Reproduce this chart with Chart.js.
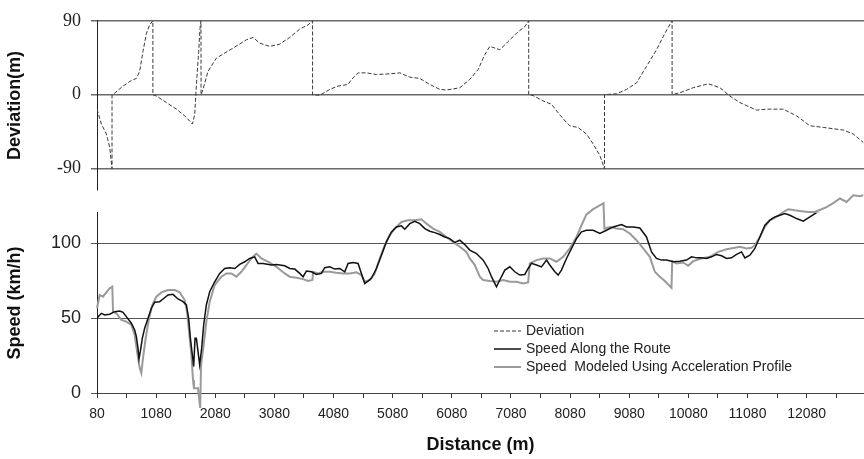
<!DOCTYPE html>
<html>
<head>
<meta charset="utf-8">
<script src="https://cdn.jsdelivr.net/npm/chart.js@4.4.0/dist/chart.umd.min.js"></script>
<style>
  html, body { margin: 0; padding: 0; background: #fff; }
  #wrap { width: 864px; height: 459px; }
</style>
</head>
<body>
<div id="wrap"><canvas id="chart" width="864" height="459"></canvas></div>
<script>
// deviation from route (m) vs distance (m)
const devDist = [80, 154, 239, 295, 334, 334, 379, 520, 662, 746, 802, 858, 916, 971, 1025, 1025,
  1085, 1254, 1423, 1563, 1694, 1733, 1761, 1800, 1822, 1838, 1840, 1873, 1958, 2100, 2380, 2607,
  2719, 2832, 3001, 3170, 3340, 3509, 3649, 3725, 3725, 3847, 4016, 4156, 4326, 4383, 4495, 4637,
  4806, 5031, 5200, 5369, 5539, 5708, 5877, 5990, 6215, 6384, 6525, 6638, 6722, 6892, 7032, 7174,
  7315, 7380, 7380, 7455, 7624, 7766, 7907, 8020, 8076, 8216, 8358, 8470, 8583, 8662, 8662, 8866,
  9035, 9204, 9373, 9542, 9683, 9805, 9805, 9936, 10161, 10415, 10613, 10782, 10951, 11234, 11403,
  11684, 11910, 12135, 12360, 12699, 12868, 13037];
const devValue = [-17.6, -35.7, -47.8, -64, -90, 0, 2, 10.5, 17.4, 19.8, 28.6, 52.8, 74.9, 85, 90, 0,
  -1.6, -9.6, -17.6, -25.7, -35.7, -23.7, 12.5, 52.8, 80.9, 90, 0, 6.5, 28.6, 44.7, 56.7, 66.9,
  69.7, 62.8, 58.8, 61.6, 69.8, 80, 85, 90, 0, -0.7, 6.5, 10.5, 12.5, 18.6, 26.6, 26.6,
  24.6, 25.4, 26.6, 21.4, 19.8, 12.5, 6.5, 5.7, 8.5, 18.6, 30.7, 48.8, 58.8, 54.8, 64.8, 74.9,
  82.9, 90, 0, -1, -7.6, -11.6, -24.7, -33.8, -37.8, -40, -47.8, -59.9, -74, -90, 0, 1.2,
  6.5, 14.5, 34.6, 54.8, 74.9, 90, 0, 2.4, 8.5, 13.3, 8.5, -1.6, -9.6, -18.8, -17.6,
  -17.6, -25.7, -37.8, -39.8, -43, -47.8, -58];

// measured speed along the route (km/h)
const routeDist = [80, 153, 210, 294, 379, 463, 520, 576, 661, 717, 745, 773, 790, 813, 847, 886, 943,
  999, 1055, 1140, 1196, 1281, 1365, 1450, 1535, 1591, 1630, 1659, 1692, 1715, 1738, 1760, 1788,
  1816, 1850, 1884, 1929, 1986, 2070, 2155, 2239, 2324, 2409, 2493, 2578, 2662, 2747, 2803, 2888,
  3029, 3113, 3254, 3339, 3424, 3508, 3565, 3621, 3706, 3790, 3875, 3931, 4016, 4100, 4185, 4269,
  4326, 4410, 4495, 4551, 4608, 4664, 4720, 4805, 4890, 4974, 5059, 5143, 5228, 5284, 5369, 5453,
  5538, 5623, 5707, 5792, 5876, 5961, 6045, 6130, 6215, 6299, 6384, 6497, 6610, 6694, 6751, 6835,
  6891, 6976, 7061, 7145, 7230, 7314, 7371, 7427, 7512, 7596, 7681, 7737, 7822, 7878, 7934, 8019,
  8104, 8188, 8273, 8357, 8470, 8583, 8696, 8808, 8949, 9034, 9147, 9259, 9372, 9457, 9541, 9626,
  9711, 9824, 9936, 10049, 10134, 10218, 10303, 10387, 10472, 10557, 10641, 10726, 10810, 10895,
  10979, 11036, 11120, 11205, 11289, 11374, 11459, 11543, 11628, 11712, 11797, 11910, 12022, 12135,
  12248, 12361, 12473, 12530, 12643, 12756, 12868, 12981, 13037];
const routeSpeed = [50, 53.3, 52.2, 52.7, 54.4, 54.9, 54, 51.1, 46.7, 42.2, 37.8, 30, 22.9, 27.8, 36.7, 43.3, 50,
  56.7, 60.7, 61.1, 62.9, 65.6, 66, 62.9, 61.1, 58.9, 50, 36.7, 25.6, 17.8, 36.7, 36.7, 27.8,
  18.9, 30, 45.6, 58.9, 67.8, 74.4, 80, 83.3, 83.8, 83.3, 86, 87.8, 90, 91.1, 86.7, 86.7,
  85.6, 86, 85.1, 83.3, 82.9, 80, 77.8, 81.6, 81.1, 79.3, 80, 83.8, 84.4, 82.9, 83.3, 81.1,
  86.7, 87.3, 86.7, 80, 73.3, 74.9, 76.7, 83.3, 92.2, 101.1, 107.8, 111.1, 111.8, 109.6, 113.3, 114.9,
  113.3, 110, 108.2, 107.3, 106, 104.4, 103.3, 100.7, 102.2, 99.3, 95.6, 93.3, 88.9, 83.3, 77.8, 71.1,
  75.6, 82.2, 84.4, 81.1, 78.9, 79.3, 83.3, 86.7, 85.6, 84.4, 88.9, 85.6, 81.1, 78.9, 82.2, 90,
  96.7, 103.3, 107.8, 108.9, 108.9, 106.7, 108.9, 111.1, 112.7, 111.1, 111.1, 110.4, 104.4, 94.4, 90, 88.9,
  88.9, 87.8, 88.2, 88.9, 91.1, 90.4, 90.4, 90, 91.1, 92.7, 91.8, 90, 90.4, 92.7,
  94.4, 90.4, 92.2, 96.7, 104.4, 112.2, 115.6, 117.8, 118.9, 120, 118.9, 116.7, 114.9, 117.8,
  120.7, 122.2, 124.4, 125.6, 129, 127.8, 124.5, 123.4, 124.5];

// speed modeled with the acceleration profile (km/h)
const modelDist = [80, 125, 181, 238, 294, 339, 351, 407, 492, 576, 661, 717, 757, 802, 830, 858, 903,
  960, 1016, 1084, 1168, 1281, 1394, 1478, 1563, 1602, 1636, 1676, 1704, 1720, 1788, 1825, 1840,
  1884, 1929, 1986, 2070, 2183, 2268, 2352, 2437, 2521, 2606, 2690, 2775, 2860, 3001, 3113, 3254,
  3339, 3452, 3565, 3649, 3723, 3734, 3818, 3903, 4016, 4128, 4241, 4354, 4467, 4551, 4608, 4692,
  4777, 4861, 4946, 5031, 5115, 5228, 5341, 5453, 5566, 5651, 5763, 5876, 5989, 6102, 6215, 6327,
  6384, 6469, 6553, 6610, 6722, 6835, 6948, 7061, 7173, 7286, 7371, 7399, 7512, 7624, 7737, 7850,
  7963, 8075, 8188, 8273, 8358, 8470, 8583, 8645, 8660, 8752, 8865, 8977, 9090, 9203, 9316, 9428,
  9513, 9598, 9682, 9795, 9807, 9880, 9993, 10077, 10162, 10303, 10444, 10585, 10726, 10867, 10951,
  11064, 11148, 11205, 11289, 11374, 11459, 11571, 11684, 11769, 11881, 11994, 12107, 12220, 12332,
  12417, 12529, 12643, 12756, 12868, 12981, 13037];
const modelSpeed = [56.7, 65.6, 64.4, 67.3, 70, 71.1, 54.4, 53.3, 48.9, 47.8, 45.6, 38.9, 27.8, 16.7, 13.3, 23.3, 36.7,
  50, 58.9, 64.4, 67.3, 68.9, 68.9, 67.3, 62.2, 54.4, 41.1, 25.6, 8.5, 3.1, 3.1, -10, 18.9,
  32.2, 47.8, 61.1, 72.2, 77.8, 80, 80, 77.8, 81.1, 85.6, 90, 93.3, 90, 87.3, 84.4, 80,
  77.8, 77.1, 76.2, 74.9, 75.6, 81.1, 80, 81.1, 81.1, 80.4, 80, 80, 80.7, 78.9, 74.4, 75.6,
  80, 90, 98.9, 105.6, 110, 114.4, 115.6, 115.6, 116.2, 113.3, 110, 107.8, 104.4, 101.1, 97.8, 94.4,
  90, 85.6, 77.8, 75.6, 74.9, 74.4, 75.6, 74.4, 74.4, 73.3, 74, 86.7, 88.9, 90, 90, 87.8,
  91.1, 96.7, 104.4, 112.2, 119.5, 123, 125.5, 127, 110, 111.1, 110, 109.6, 106.7, 102.2, 96.7, 91.1,
  81.1, 77.8, 74.9, 70.4, 88.2, 86.7, 87.3, 85.1, 88.2, 90, 91.1, 94.4, 96.2, 97.1, 97.8,
  96.7, 97.1, 98.9, 104.4, 111.1, 115.6, 117.8, 121.1, 122.9, 122.2, 121.6, 121.1, 121.1, 122.9,
  124.4, 127, 130.1, 127.8, 132.3, 131.7, 132.3];

const distTicks = [80, 580, 1080, 1580, 2080, 2580, 3080, 3580, 4080, 4580, 5080, 5580, 6080, 6580,
  7080, 7580, 8080, 8580, 9080, 9580, 10080, 10580, 11080, 11580, 12080, 12580];
const devTicks = [-90, 0, 90];
const speedTicks = [0, 50, 100];
const seriesLabels = ["Deviation", "Speed Along the Route", "Speed  Modeled Using Acceleration Profile"];

const toPoints = (xs, ys) => xs.map((x, i) => ({ x: x, y: ys[i] }));

const sans = "'Liberation Sans', Arial, sans-serif";
const serif = "'Liberation Serif', 'Times New Roman', serif";

// legend sits inside the speed panel, below the curves
const insideLegend = {
  id: "insideLegend",
  afterDraw(chart) {
    const ctx = chart.ctx;
    ctx.save();
    ctx.font = "14px " + sans;
    ctx.textBaseline = "middle";
    chart.data.datasets.forEach((ds, i) => {
      const y = 331 + i * 18;
      ctx.beginPath();
      ctx.setLineDash(ds.borderDash || []);
      ctx.strokeStyle = ds.borderColor;
      ctx.lineWidth = ds.borderWidth;
      ctx.moveTo(494, y);
      ctx.lineTo(521, y);
      ctx.stroke();
      ctx.setLineDash([]);
      ctx.fillStyle = "#222";
      ctx.fillText(ds.label, 526, y);
    });
    ctx.restore();
  },
};

const fixWidth = (scale) => { scale.width = 97; };

new Chart(document.getElementById("chart"), {
  type: "line",
  data: {
    datasets: [
      {
        label: seriesLabels[0],
        data: toPoints(devDist, devValue),
        yAxisID: "yDev",
        borderColor: "#3a3a3a",
        borderWidth: 1,
        borderDash: [4, 2],
        pointRadius: 0,
        tension: 0,
      },
      {
        label: seriesLabels[1],
        data: toPoints(routeDist, routeSpeed),
        yAxisID: "ySpd",
        borderColor: "#111",
        borderWidth: 1.5,
        pointRadius: 0,
        tension: 0,
      },
      {
        label: seriesLabels[2],
        data: toPoints(modelDist, modelSpeed),
        yAxisID: "ySpd",
        borderColor: "#9a9a9a",
        borderWidth: 2,
        pointRadius: 0,
        tension: 0,
        clip: false,
      },
    ],
  },
  options: {
    responsive: false,
    animation: false,
    layout: { padding: { top: 19, left: 0, right: 0, bottom: 0 } },
    plugins: {
      legend: { display: false },
      tooltip: { enabled: false },
    },
    scales: {
      x: {
        type: "linear",
        min: 80,
        max: 13050,
        afterBuildTicks: (scale) => { scale.ticks = distTicks.map((v) => ({ value: v })); },
        afterFit: (scale) => { scale.height = 66; },
        ticks: {
          autoSkip: false,
          maxRotation: 0,
          padding: 8,
          color: "#222",
          font: { family: sans, size: 14 },
          callback: (v) => ((v - 80) % 1000 === 0 ? String(v) : ""),
        },
        grid: { drawOnChartArea: false, drawTicks: true, tickLength: 5, color: "#333" },
        border: { display: true, color: "#444", width: 1 },
        title: {
          display: true,
          text: "Distance (m)",
          color: "#111",
          font: { family: sans, size: 18, weight: "bold" },
          padding: { top: 3, bottom: 3 },
        },
      },
      ySpd: {
        type: "linear",
        position: "left",
        stack: "panels",
        stackWeight: 181,
        min: 0,
        max: 120.5,
        afterBuildTicks: (scale) => { scale.ticks = speedTicks.map((v) => ({ value: v })); },
        afterFit: fixWidth,
        ticks: { padding: 10, color: "#222", font: { family: sans, size: 18 } },
        grid: { color: "#555", lineWidth: 1, tickLength: 6 },
        border: { display: true, color: "#222", width: 1 },
        title: {
          display: true,
          text: "Speed (km/h)",
          color: "#111",
          font: { family: sans, size: 18, weight: "bold" },
          padding: { top: 4, bottom: 0 },
        },
      },
      yGap: {
        type: "linear",
        position: "left",
        stack: "panels",
        stackWeight: 23,
        afterFit: fixWidth,
        ticks: { display: false },
        grid: { display: false },
        border: { display: false },
      },
      yDev: {
        type: "linear",
        position: "left",
        stack: "panels",
        stackWeight: 170,
        min: -116,
        max: 90,
        afterBuildTicks: (scale) => { scale.ticks = devTicks.map((v) => ({ value: v })); },
        afterFit: fixWidth,
        ticks: { padding: 10, color: "#222", font: { family: serif, size: 18 } },
        grid: { color: "#6a6a6a", lineWidth: 1.5, tickLength: 6 },
        border: { display: true, color: "#222", width: 1 },
        title: {
          display: true,
          text: "Deviation(m)",
          color: "#111",
          font: { family: sans, size: 18, weight: "bold" },
          padding: { top: 4, bottom: 0 },
        },
      },
    },
  },
  plugins: [insideLegend],
});
</script>
</body>
</html>
